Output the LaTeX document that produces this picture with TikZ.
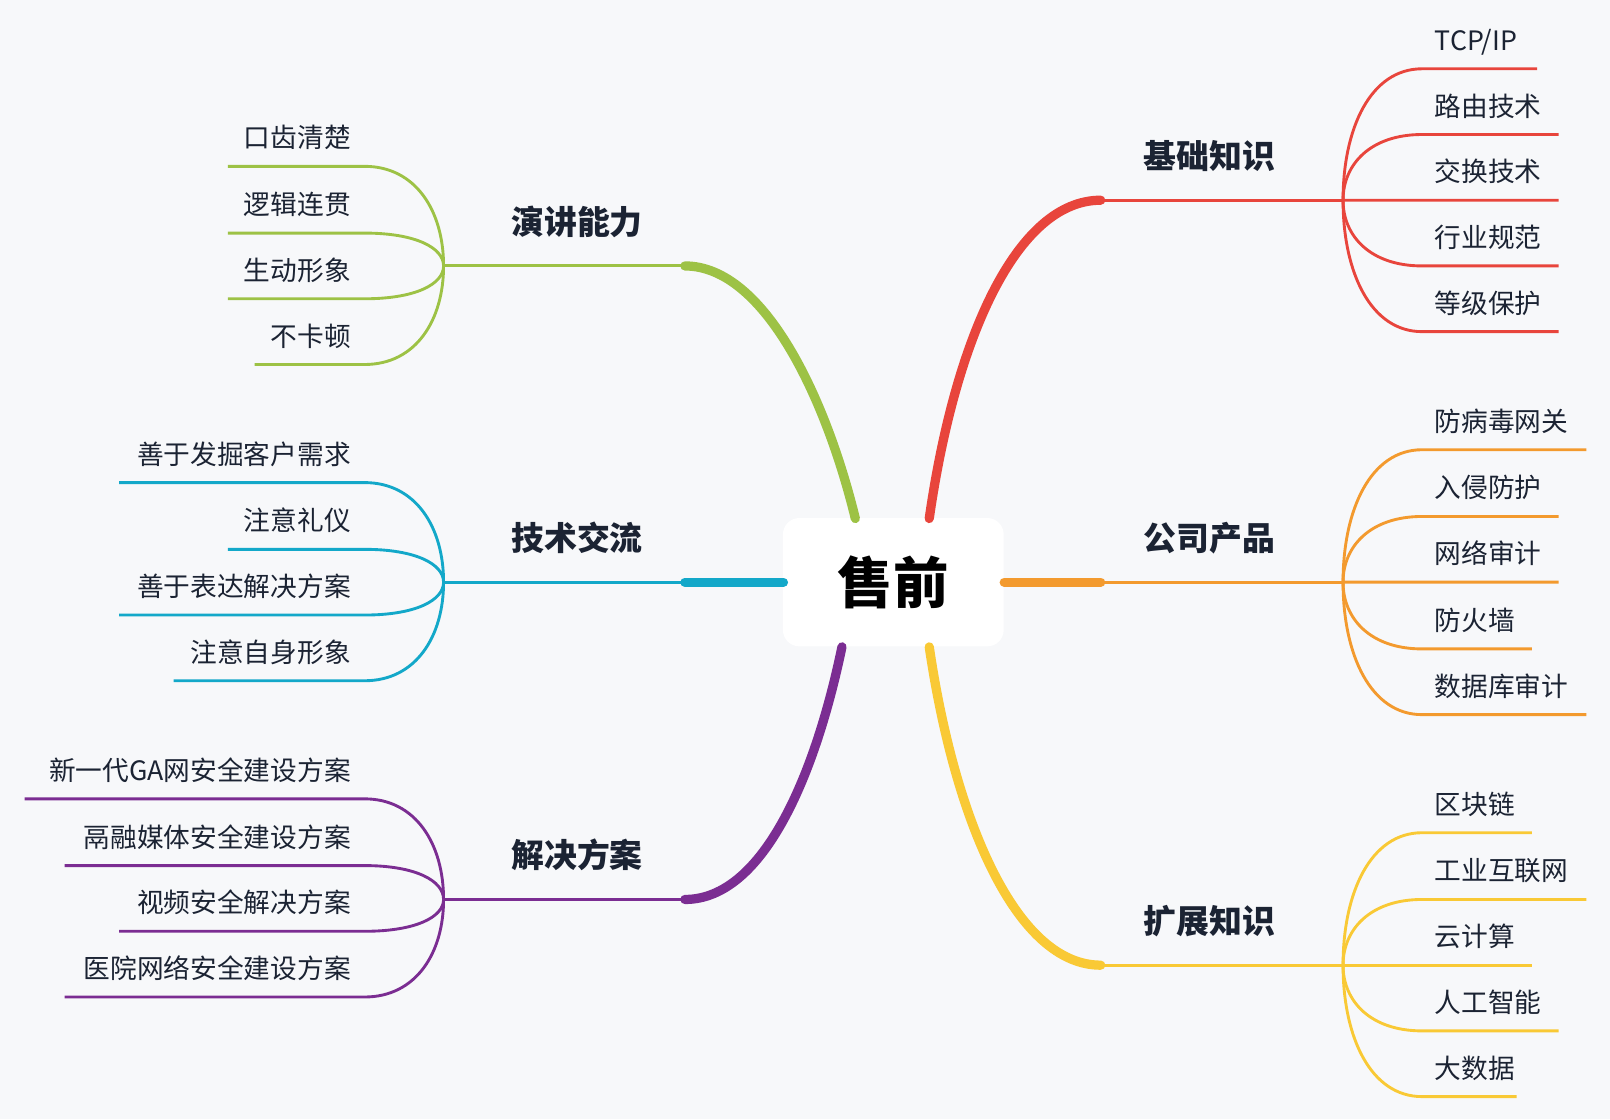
\documentclass[tikz,border=0pt]{standalone}
\usepackage{fontspec}
\setmainfont{Noto Sans CJK SC}
\usetikzlibrary{positioning,calc}
\definecolor{bg}{HTML}{F7F8FA}
\definecolor{cred}{HTML}{E8453C}
\definecolor{corange}{HTML}{F39A2E}
\definecolor{cyellow}{HTML}{F9C935}
\definecolor{cgreen}{HTML}{9DC245}
\definecolor{ccyan}{HTML}{13A8C9}
\definecolor{cpurple}{HTML}{7B2D92}
\definecolor{ink}{HTML}{1B2333}
\tikzset{%
  leaf/.style={font=\fontsize{13}{15}\selectfont, text=ink, inner sep=0pt},
  topic/.style={font=\fontsize{16}{18}\selectfont\bfseries, text=ink, inner sep=0pt},
  trunk/.style={line width=4.5pt, line cap=round},
  twig/.style={line width=1.4pt}
}
\begin{document}
\begin{tikzpicture}[x=0.5pt, y=-0.5pt]
\fill[bg] (0,0) rectangle (1568,1090);
\useasboundingbox (0,0) rectangle (1568,1090);

% root
\node[fill=white, rounded corners=8pt, minimum width=107.5pt, minimum height=62.5pt,
      font=\fontsize{27}{30}\selectfont\bfseries] (root) at (870,567) {售前};

% right branches
\coordinate (r1a) at (905,505);  \coordinate (r1b) at (1072,195); \coordinate (r1h) at (1308,195);
\coordinate (r2a) at (978,567);  \coordinate (r2b) at (1072,567); \coordinate (r2h) at (1308,567);
\coordinate (r3a) at (905,630);  \coordinate (r3b) at (1072,940); \coordinate (r3h) at (1308,940);
% left branches
\coordinate (l1a) at (833,505);  \coordinate (l1b) at (667,259);  \coordinate (l1h) at (432,259);
\coordinate (l2a) at (763,567);  \coordinate (l2b) at (667,567);  \coordinate (l2h) at (432,567);
\coordinate (l3a) at (820,630);  \coordinate (l3b) at (667,876);  \coordinate (l3h) at (432,876);

\draw[trunk, cred] (r1a) .. controls (930,330) and (990,195) .. (r1b);
\draw[trunk, corange] (r2a) -- (r2b);
\draw[trunk, cyellow] (r3a) .. controls (930,800) and (990,940) .. (r3b);
\draw[trunk, cgreen] (l1a) .. controls (805,390) and (745,259) .. (l1b);
\draw[trunk, ccyan] (l2a) -- (l2b);
\draw[trunk, cpurple] (l3a) .. controls (795,750) and (745,876) .. (l3b);
\draw[twig, cred] (r1b) -- (r1h);
\draw[twig, corange] (r2b) -- (r2h);
\draw[twig, cyellow] (r3b) -- (r3h);
\draw[twig, cgreen] (l1b) -- (l1h);
\draw[twig, ccyan] (l2b) -- (l2h);
\draw[twig, cpurple] (l3b) -- (l3h);

\node[topic] (t1) at (1178,152) {基础知识};
\node[topic] (t2) at (1178,524) {公司产品};
\node[topic] (t3) at (1178,897) {扩展知识};
\node[topic] (t4) at (562,216) {演讲能力};
\node[topic] (t5) at (562,524) {技术交流};
\node[topic] (t6) at (562,833) {解决方案};

% right leaves: hub/colour/y/end/text
\foreach \h/\c/\y/\e/\t [count=\i] in {
  r1h/cred/67/1497/{TCP/IP}, r1h/cred/131/1518/路由技术, r1h/cred/195/1518/交换技术,
  r1h/cred/259/1518/行业规范, r1h/cred/323/1518/等级保护,
  r2h/corange/438/1545/防病毒网关, r2h/corange/503/1518/入侵防护, r2h/corange/567/1518/网络审计,
  r2h/corange/632/1492/防火墙, r2h/corange/696/1545/数据库审计,
  r3h/cyellow/811/1492/区块链, r3h/cyellow/876/1545/工业互联网, r3h/cyellow/940/1492/云计算,
  r3h/cyellow/1004/1518/人工智能, r3h/cyellow/1068/1477/大数据} {
  \coordinate (rs\i) at (1385,\y);
  \coordinate (re\i) at (\e,\y);
  \draw[twig, \c] (\h) .. controls ($(\h)!0.55!(\h |- rs\i)$) and ($(\h |- rs\i)!0.35!(rs\i)$) .. (rs\i) -- (re\i);
  \node[leaf, anchor=base west] (rl\i) at (1397,\y-18) {\t};
}

% left leaves
\foreach \h/\c/\y/\e/\t [count=\i] in {
  l1h/cgreen/162/222/口齿清楚, l1h/cgreen/227/222/逻辑连贯, l1h/cgreen/291/222/生动形象,
  l1h/cgreen/355/248/不卡顿,
  l2h/ccyan/470/116/善于发掘客户需求, l2h/ccyan/535/222/注意礼仪, l2h/ccyan/599/116/善于表达解决方案,
  l2h/ccyan/663/169/注意自身形象,
  l3h/cpurple/778/24/新一代GA网安全建设方案, l3h/cpurple/843/63/鬲融媒体安全建设方案,
  l3h/cpurple/907/116/视频安全解决方案, l3h/cpurple/971/63/医院网络安全建设方案} {
  \coordinate (ls\i) at (355,\y);
  \coordinate (le\i) at (\e,\y);
  \draw[twig, \c] (\h) .. controls ($(\h)!0.55!(\h |- ls\i)$) and ($(\h |- ls\i)!0.35!(ls\i)$) .. (ls\i) -- (le\i);
  \node[leaf, anchor=base east] (ll\i) at (342,\y-18) {\t};
}
\end{tikzpicture}
\end{document}
